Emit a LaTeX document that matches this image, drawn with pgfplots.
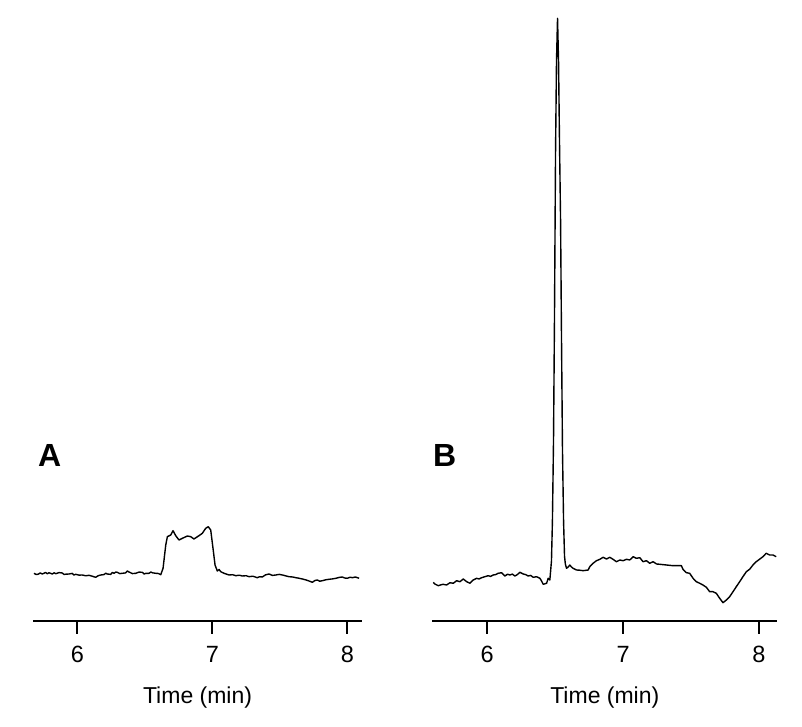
\documentclass[border=0pt]{standalone}
\usepackage{pgfplots}
\pgfplotsset{compat=1.18}
\usepackage{fontspec}
\setmainfont{Liberation Sans}
\begin{document}
\begin{tikzpicture}[x=1pt,y=1pt]
\useasboundingbox (0,0) rectangle (802,727);
\pgfplotsset{
  panel/.style={
    scale only axis,
    height=621pt,
    ymin=0, ymax=621,
    axis x line*=bottom,
    hide y axis,
    xtick={6,7,8},
    xtick align=outside,
    major tick length=13pt,
    minor tick num=0,
    axis line style={line width=2pt},
    every tick/.style={line width=2pt,black},
    ticklabel style={font=\fontsize{23.5}{26}\selectfont},
    xticklabel style={yshift=-9pt},
    xlabel={Time (min)},
    label style={font=\fontsize{23}{26}\selectfont},
    xlabel style={yshift=-17pt},
    /pgf/number format/assume math mode=true,
    clip=false,
    anchor=south west,
  },
  trace/.style={black, line width=1.4pt, line join=round, mark=none},
}
\begin{axis}[panel, at={(33.3pt,106pt)}, width=328.5pt, xmin=5.674, xmax=8.107]
\addplot[trace] coordinates {
(5.679,47.7)(5.695,46.5)(5.710,46.8)(5.725,48.0)(5.741,47)(5.765,48.5)(5.778,47.2)(5.790,48.3)(5.815,47.0)(5.828,48.2)(5.840,47.3)(5.865,48.4)(5.889,48)(5.902,46.5)(5.914,46.8)(5.939,47)(5.963,47.6)(5.975,46.0)(5.988,46.7)(6.012,45.9)(6.037,46)(6.062,45.2)(6.087,45.7)(6.110,44.8)(6.136,43.7)(6.155,45.3)(6.173,46)(6.198,46.4)(6.210,47.8)(6.222,47)(6.247,46.6)(6.260,48.6)(6.272,47.7)(6.285,48.9)(6.296,48.7)(6.315,47.4)(6.333,47.7)(6.358,48.1)(6.370,50.0)(6.383,49)(6.408,47.4)(6.433,47.7)(6.457,48.9)(6.481,48.7)(6.495,47.0)(6.506,47.6)(6.531,47.7)(6.545,49.0)(6.556,48.2)(6.581,47.7)(6.600,47.5)(6.618,46.3)(6.635,52.7)(6.655,76)(6.667,84.3)(6.692,86)(6.709,90.3)(6.729,85.3)(6.753,81)(6.778,82.7)(6.815,85)(6.840,84.3)(6.864,82)(6.901,85.3)(6.926,87.7)(6.951,92.7)(6.970,94.3)(6.988,91)(7.005,72.7)(7.020,56)(7.037,50)(7.050,51.5)(7.062,49.3)(7.087,47.7)(7.124,46)(7.150,46.3)(7.173,45.3)(7.200,45.8)(7.222,45)(7.250,45.3)(7.272,44.3)(7.300,44.8)(7.333,43.3)(7.350,44.3)(7.370,44)(7.395,46.2)(7.420,47)(7.445,45.6)(7.470,46)(7.495,46.6)(7.519,46)(7.545,45.1)(7.568,44.3)(7.595,44.0)(7.618,43.3)(7.640,42.8)(7.667,42)(7.690,41.2)(7.716,40)(7.741,38.7)(7.760,40.5)(7.778,41)(7.795,39.8)(7.815,40.3)(7.840,41.2)(7.864,41.7)(7.890,42.1)(7.914,42.7)(7.940,43.6)(7.963,44)(7.980,43.0)(8.000,42.7)(8.020,43.8)(8.037,43.3)(8.060,44.0)(8.087,42.7)
};
\end{axis}
\begin{axis}[panel, at={(432.3pt,106pt)}, width=345pt, xmin=5.596, xmax=8.135]
\addplot[trace] coordinates {
(5.603,38.7)(5.615,37)(5.640,35.3)(5.660,36.2)(5.676,36.7)(5.701,36)(5.726,38.3)(5.750,37.7)(5.775,40.3)(5.799,39.3)(5.824,42)(5.849,39.3)(5.873,37.7)(5.897,41)(5.922,42.7)(5.940,42.0)(5.959,43.3)(5.983,44.3)(6.007,45.3)(6.025,44.6)(6.044,46)(6.062,46.4)(6.081,47.7)(6.106,48.3)(6.130,45)(6.150,46.8)(6.167,46)(6.185,46.9)(6.204,45)(6.222,46.4)(6.240,48.7)(6.265,47)(6.283,46.4)(6.301,45)(6.320,45.6)(6.338,43.7)(6.363,44.3)(6.388,42.7)(6.400,40.0)(6.412,36.7)(6.437,37.7)(6.449,42.7)(6.461,41)(6.473,60)(6.480,100)(6.488,180)(6.495,300)(6.503,470)(6.510,560)(6.5176,602.7)(6.525,560)(6.532,480)(6.540,400)(6.547,280)(6.554,171)(6.562,100)(6.569,65)(6.575,57)(6.584,52.7)(6.596,54.0)(6.608,56)(6.620,54.0)(6.632,52.7)(6.657,51)(6.680,50.8)(6.706,50.3)(6.743,51)(6.755,54.3)(6.779,57.7)(6.804,60.3)(6.829,61.7)(6.853,63.7)(6.878,62)(6.902,63.7)(6.926,61.7)(6.951,59.3)(6.976,61)(7.000,60.3)(7.025,61.7)(7.049,61)(7.074,64.3)(7.098,62.7)(7.123,63.3)(7.147,59.3)(7.172,60.3)(7.196,57.7)(7.221,59.3)(7.246,57)(7.270,56.7)(7.319,56)(7.368,55.3)(7.429,55.3)(7.441,51.7)(7.466,48.3)(7.490,47.7)(7.515,42.7)(7.539,39.3)(7.564,37.7)(7.588,36)(7.613,33.7)(7.637,29.3)(7.662,29.3)(7.686,27.7)(7.711,22.7)(7.735,18.3)(7.760,21)(7.784,24.3)(7.809,29.3)(7.833,34.3)(7.858,39.3)(7.882,44.3)(7.907,49.3)(7.931,51.7)(7.956,56)(7.980,59.3)(8.004,61.7)(8.029,64.3)(8.053,67.7)(8.078,66)(8.103,66)(8.127,64.3)
};
\end{axis}
\node[anchor=base west, inner sep=0pt, font=\fontsize{32}{36}\selectfont\bfseries] at (38,260) {A};
\node[anchor=base west, inner sep=0pt, font=\fontsize{32}{36}\selectfont\bfseries] at (433,260) {B};
\end{tikzpicture}
\end{document}
